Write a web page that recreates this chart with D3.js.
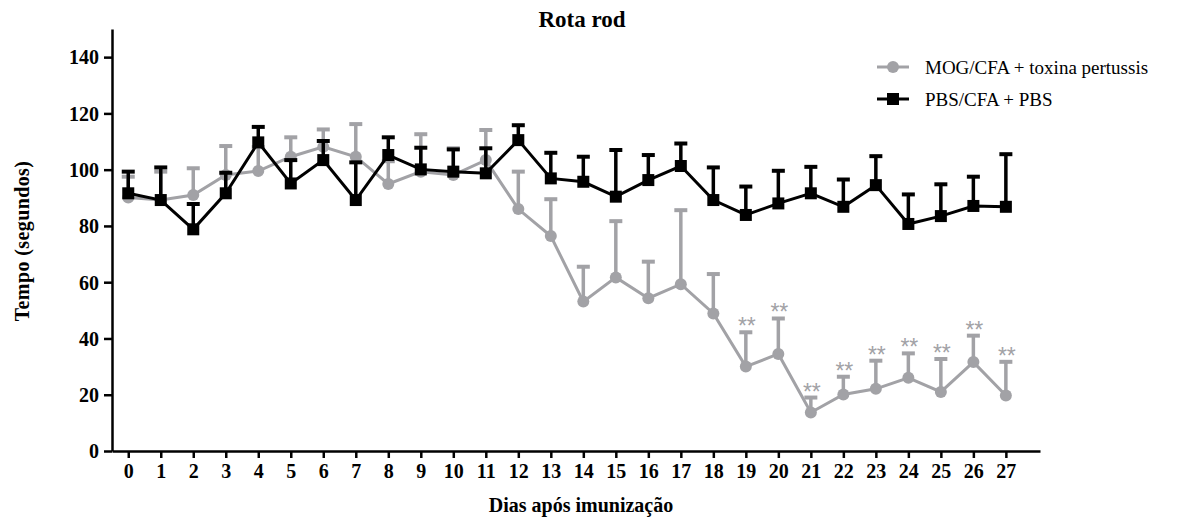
<!DOCTYPE html>
<html>
<head>
<meta charset="utf-8">
<script src="https://cdn.jsdelivr.net/npm/d3@7"></script>
<style>
  body { margin: 0; background: #fff; }
  text { font-family: "Liberation Serif", "Times New Roman", serif; }
</style>
</head>
<body>
<div id="chart"></div>
<script>
// data
var days = d3.range(0, 28);
var mogMean = [90.1, 89.2, 91.0, 98.1, 99.5, 104.6, 108.1, 104.6, 94.9, 99.3, 98.1, 103.4, 86.0, 76.4,
	53.1, 61.7, 54.3, 59.3, 48.9, 30.0, 34.5, 13.7, 20.1, 22.1, 26.0, 21.0, 31.6, 19.7];
var mogSem = [7.4, 10.1, 9.5, 10.3, 8.5, 6.9, 6.2, 11.6, 8.1, 13.3, 9.5, 10.7, 13.3, 13.1,
	12.4, 20.0, 13.0, 26.3, 14.0, 12.2, 12.6, 5.3, 6.3, 10.0, 8.7, 11.7, 9.4, 12.0];
var pbsMean = [91.6, 89.2, 78.8, 91.6, 109.7, 95.1, 103.4, 89.2, 105.2, 100.1, 99.3, 98.7, 110.5, 96.9,
	95.7, 90.4, 96.3, 101.3, 89.2, 83.9, 88.0, 91.6, 86.8, 94.5, 80.7, 83.5, 87.1, 86.8];
var pbsSem = [7.7, 11.6, 9.0, 7.3, 5.5, 8.3, 6.8, 13.4, 6.3, 7.7, 7.9, 8.9, 5.3, 9.1,
	8.9, 16.6, 8.9, 8.0, 11.6, 10.1, 11.6, 9.4, 9.7, 10.3, 10.5, 11.3, 10.4, 18.7];
var sigDays = [19, 20, 21, 22, 23, 24, 25, 26, 27];
var yTicks = [0, 20, 40, 60, 80, 100, 120, 140];
var seriesNames = ["MOG/CFA + toxina pertussis", "PBS/CFA + PBS"];

var GRAY = "#a2a2a6", BLACK = "#000";

var WIDTH = 1184, HEIGHT = 519;

var xScale = d3.scaleLinear().domain([-0.5, 28.05]).range([112, 1040]);
var yScale = d3.scaleLinear().domain([0, 150]).range([451, 29]);

var svg = d3.select("#chart").append("svg")
	.attr("width", WIDTH)
	.attr("height", HEIGHT);

// title
svg.append("text")
	.attr("x", 582).attr("y", 27)
	.attr("text-anchor", "middle")
	.style("font-weight", "bold").style("font-size", "23px")
	.text("Rota rod");

// axes
var xAxis = svg.append("g")
	.attr("transform", "translate(0," + yScale(0) + ")")
	.call(d3.axisBottom(xScale).tickValues(days).tickSize(7).tickPadding(6).tickSizeOuter(0));
var yAxis = svg.append("g")
	.attr("transform", "translate(" + xScale(-0.5) + ",0)")
	.call(d3.axisLeft(yScale).tickValues(yTicks).tickSize(8).tickPadding(5).tickSizeOuter(0));

[xAxis, yAxis].forEach(function(ax) {
	ax.select(".domain").attr("stroke", BLACK).attr("stroke-width", 2.5);
	ax.selectAll(".tick line").attr("stroke", BLACK).attr("stroke-width", 2.5);
	ax.selectAll(".tick text")
		.attr("fill", BLACK)
		.style("font-family", "'Liberation Serif', 'Times New Roman', serif")
		.style("font-weight", "bold").style("font-size", "20px");
});
yAxis.selectAll(".tick text").attr("dy", "0.34em");

// axis titles
svg.append("text")
	.attr("x", 581).attr("y", 512)
	.attr("text-anchor", "middle")
	.style("font-weight", "bold").style("font-size", "20px")
	.text("Dias após imunização");

svg.append("text")
	.attr("transform", "translate(29,241) rotate(-90)")
	.attr("text-anchor", "middle")
	.style("font-weight", "bold").style("font-size", "20px")
	.style("letter-spacing", "0.4px")
	.text("Tempo (segundos)");

var lineGen = function(values) {
	return d3.line()
		.x(function(d, i) { return xScale(days[i]); })
		.y(function(d) { return yScale(d); })(values);
};

function drawSeries(mean, sem, color, marker) {
	var g = svg.append("g");
	// upper error bars
	var err = g.selectAll(".err").data(days).enter().append("g");
	err.append("line")
		.attr("x1", function(d) { return xScale(d); })
		.attr("x2", function(d) { return xScale(d); })
		.attr("y1", function(d) { return yScale(mean[d]); })
		.attr("y2", function(d) { return yScale(mean[d] + sem[d]); })
		.attr("stroke", color).attr("stroke-width", 3.5);
	err.append("line")
		.attr("x1", function(d) { return xScale(d) - 6.5; })
		.attr("x2", function(d) { return xScale(d) + 6.5; })
		.attr("y1", function(d) { return yScale(mean[d] + sem[d]); })
		.attr("y2", function(d) { return yScale(mean[d] + sem[d]); })
		.attr("stroke", color).attr("stroke-width", 4);

	g.append("path")
		.attr("d", lineGen(mean))
		.attr("fill", "none")
		.attr("stroke", color).attr("stroke-width", 3);

	if (marker == "circle") {
		g.selectAll(".pt").data(days).enter().append("circle")
			.attr("cx", function(d) { return xScale(d); })
			.attr("cy", function(d) { return yScale(mean[d]); })
			.attr("r", 6)
			.attr("fill", color);
	} else {
		g.selectAll(".pt").data(days).enter().append("rect")
			.attr("x", function(d) { return xScale(d) - 6; })
			.attr("y", function(d) { return yScale(mean[d]) - 6; })
			.attr("width", 12).attr("height", 12)
			.attr("fill", color);
	}
}

drawSeries(mogMean, mogSem, GRAY, "circle");
drawSeries(pbsMean, pbsSem, BLACK, "square");

// significance stars
svg.selectAll(".sig").data(sigDays).enter().append("text")
	.attr("x", function(d) { return xScale(d) + 1; })
	.attr("y", function(d) { return yScale(mogMean[d] + mogSem[d]) + 2; })
	.attr("text-anchor", "middle")
	.style("font-family", "'Liberation Sans', Arial, sans-serif")
	.style("font-size", "23px")
	.attr("fill", GRAY)
	.text("**");

// legend
var legend = svg.append("g");
var legendRows = [
	{name: seriesNames[0], color: GRAY, marker: "circle", y: 67},
	{name: seriesNames[1], color: BLACK, marker: "square", y: 99}
];
legendRows.forEach(function(r) {
	legend.append("line")
		.attr("x1", 877).attr("x2", 909)
		.attr("y1", r.y).attr("y2", r.y)
		.attr("stroke", r.color).attr("stroke-width", 3);
	if (r.marker == "circle") {
		legend.append("circle").attr("cx", 893).attr("cy", r.y).attr("r", 6).attr("fill", r.color);
	} else {
		legend.append("rect").attr("x", 887).attr("y", r.y - 6).attr("width", 12).attr("height", 12).attr("fill", r.color);
	}
	legend.append("text")
		.attr("x", 925).attr("y", r.y + 6.5)
		.style("font-size", "19px")
		.text(r.name);
});
</script>
</body>
</html>
